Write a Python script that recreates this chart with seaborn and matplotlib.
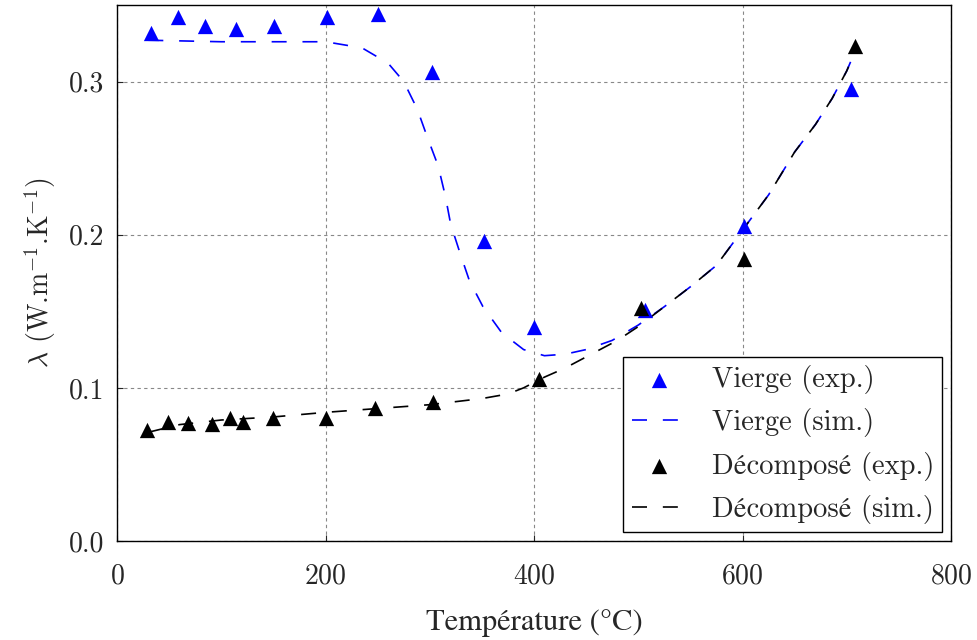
import numpy as np
import matplotlib
matplotlib.use('agg')
import matplotlib.pyplot as plt
import seaborn as sns

# --- data

# Vierge, experimental points
vierge_exp_T = [33, 58, 84, 114, 151, 201, 250, 302, 352, 400, 506, 601, 704]
vierge_exp_k = [0.332, 0.342, 0.336, 0.334, 0.336, 0.342, 0.344, 0.306, 0.196,
                0.140, 0.151, 0.206, 0.295]

# Vierge, simulation
vierge_sim_T = [30, 100, 200, 235, 260, 275, 288, 298, 308, 315, 320, 329, 338,
                351, 369, 390, 410, 430, 450, 475, 500, 525, 550, 575, 600, 625,
                650, 670, 686, 700, 705]
vierge_sim_k = [0.327, 0.326, 0.326, 0.322, 0.312, 0.300, 0.282, 0.263, 0.245,
                0.225, 0.207, 0.188, 0.170, 0.153, 0.136, 0.125, 0.121, 0.122,
                0.125, 0.131, 0.141, 0.153, 0.166, 0.180, 0.203, 0.226, 0.254,
                0.272, 0.289, 0.307, 0.315]

# Décomposé, experimental points
decomp_exp_T = [29, 49, 68, 91, 108, 121, 150, 200, 247, 303, 405, 503, 601, 708]
decomp_exp_k = [0.0725, 0.078, 0.077, 0.0765, 0.080, 0.078, 0.080, 0.080, 0.087,
                0.091, 0.106, 0.152, 0.184, 0.323]

# Décomposé, simulation
decomp_sim_T = [30, 60, 100, 150, 200, 250, 300, 350, 375, 390, 410, 430, 455,
                480, 500, 525, 550, 575, 600, 625, 650, 670, 686, 700, 705]
decomp_sim_k = [0.071, 0.076, 0.079, 0.081, 0.084, 0.0865, 0.089, 0.093, 0.096,
                0.100, 0.107, 0.113, 0.122, 0.131, 0.140, 0.153, 0.166, 0.180,
                0.203, 0.226, 0.254, 0.272, 0.289, 0.307, 0.315]

sns.set_style('ticks')
plt.rcParams.update({'font.family': ['cmr10', 'STIXGeneral', 'DejaVu Serif'],
                     'mathtext.fontset': 'cm',
                     'axes.formatter.use_mathtext': True,
                     'axes.unicode_minus': False})

fig = plt.figure(figsize=(9.77, 6.4), dpi=100)
ax = fig.add_axes([0.1198, 0.1547, 0.8536, 0.8375])

fs = 20
dash = (9, 9.5)

sns.scatterplot(x=vierge_exp_T, y=vierge_exp_k, marker='^', s=121, color='#0000ff',
                linewidth=0, ax=ax, label='Vierge (exp.)', zorder=3)
sns.lineplot(x=vierge_sim_T, y=vierge_sim_k, color='#0000ff', lw=1.2, dashes=False,
             sort=False, errorbar=None, ax=ax, label='Vierge (sim.)')
sns.scatterplot(x=decomp_exp_T, y=decomp_exp_k, marker='^', s=121, color='black',
                linewidth=0, ax=ax, label='Décomposé (exp.)', zorder=3)
sns.lineplot(x=decomp_sim_T, y=decomp_sim_k, color='black', lw=1.2, dashes=False,
             sort=False, errorbar=None, ax=ax, label='Décomposé (sim.)')

for ln in ax.lines:
    ln.set_dashes(dash)

ax.set_xlim(0, 800)
ax.set_ylim(0, 0.35)
ax.set_xticks([0, 200, 400, 600, 800])
ax.set_yticks([0.0, 0.1, 0.2, 0.3])
ax.yaxis.set_major_formatter('{x:3.1f}')

ax.grid(True, color='#888888', linestyle=(0, (3, 3)), linewidth=0.8)
ax.set_axisbelow(True)

for axis in ['top', 'bottom', 'left', 'right']:
    ax.spines[axis].set_linewidth(1.0)
    ax.spines[axis].set_color('black')

ax.tick_params(direction='in', length=4, width=0.8, labelsize=fs)
ax.tick_params(axis='x', pad=16)
ax.tick_params(axis='y', pad=9)

# cmr10 has no é / ° glyphs, so this label is set in STIX
ax.set_xlabel('Température (°C)', fontsize=22, labelpad=14,
              fontfamily=['STIXGeneral'])
ax.set_ylabel(r'$\lambda$ (W.m$^{\mathrm{-1}}$.K$^{\mathrm{-1}}$)', fontsize=20,
              labelpad=8)

leg = ax.legend(loc='lower right', fontsize=20.5, frameon=True, fancybox=False,
                edgecolor='black', framealpha=1, scatterpoints=1,
                borderaxespad=0.3, handletextpad=0.9, borderpad=0.3,
                labelspacing=0.5, handlelength=1.9)
leg.get_frame().set_linewidth(1.0)

plt.savefig('out.png', dpi=100)
print('Info:   ', 'Normal termination')
